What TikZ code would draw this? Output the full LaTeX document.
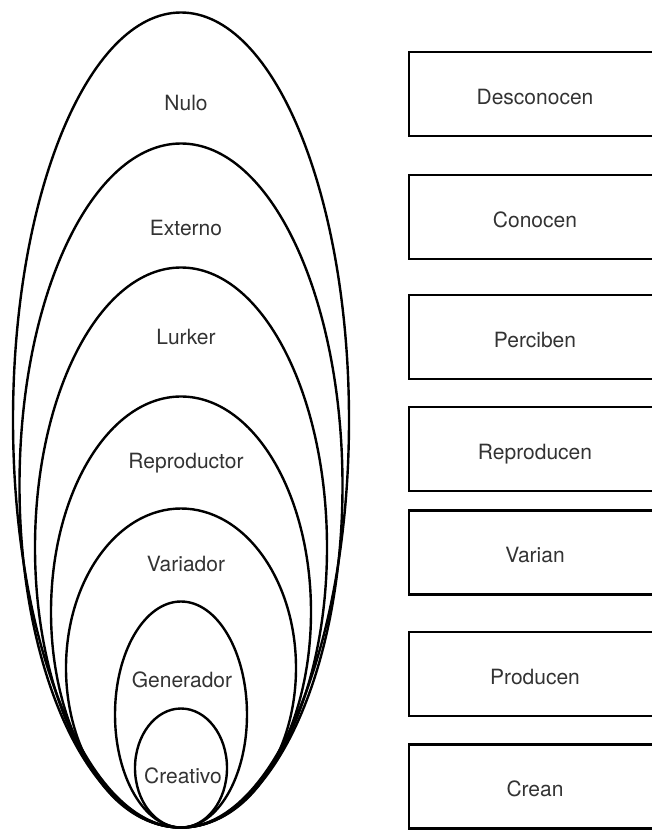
\documentclass[tikz,border=0pt]{standalone}
\usepackage{fontspec}
\setmainfont{TeX Gyre Heros}
\usetikzlibrary{shapes.geometric}

\begin{document}
\begin{tikzpicture}[x=1pt,y=-1pt,line width=2.4pt,
  oval/.style={draw,ellipse,inner sep=0pt,outer sep=0pt,anchor=south},
  rolelabel/.style={anchor=base,text=black!80,font=\fontsize{21}{25}\selectfont},
  verbbox/.style={draw,rectangle,minimum width=252pt,minimum height=84pt,inner sep=0pt,
    text height=20pt,text depth=0pt,text=black!80,font=\fontsize{21}{25}\selectfont}]

\useasboundingbox (0,0) rectangle (652,830);

\coordinate (Base) at (181,827.5);

% nested ellipses
\node[oval,minimum width=336pt,minimum height=815pt] (RoleA1) at (Base) {};
\node[oval,minimum width=323pt,minimum height=684pt] (RoleA2) at (Base) {};
\node[oval,minimum width=292pt,minimum height=560pt] (RoleA3) at (Base) {};
\node[oval,minimum width=260pt,minimum height=431pt] (RoleA4) at (Base) {};
\node[oval,minimum width=230pt,minimum height=319pt] (RoleA5) at (Base) {};
\node[oval,minimum width=132pt,minimum height=226pt] (RoleA6) at (Base) {};
\node[oval,minimum width=92pt,minimum height=119pt] (RoleA7) at (Base) {};

\node[rolelabel] (LabelA1) at (186,110) {Nulo};
\node[rolelabel] (LabelA2) at (186,235) {Externo};
\node[rolelabel] (LabelA3) at (186,344) {Lurker};
\node[rolelabel] (LabelA4) at (186,468) {Reproductor};
\node[rolelabel] (LabelA5) at (186,571) {Variador};
\node[rolelabel] (LabelA6) at (182,687) {Generador};
\node[rolelabel] (LabelA7) at (183,783) {Creativo};

% boxes
\node[verbbox] (ActionB1) at (535,94) {Desconocen};
\node[verbbox] (ActionB2) at (535,217) {Conocen};
\node[verbbox] (ActionB3) at (535,337) {Perciben};
\node[verbbox] (ActionB4) at (535,449) {Reproducen};
\node[verbbox] (ActionB5) at (535,552.5) {Varian};
\node[verbbox] (ActionB6) at (535,674) {Producen};
\node[verbbox] (ActionB7) at (535,786.5) {Crean};

\end{tikzpicture}
\end{document}
